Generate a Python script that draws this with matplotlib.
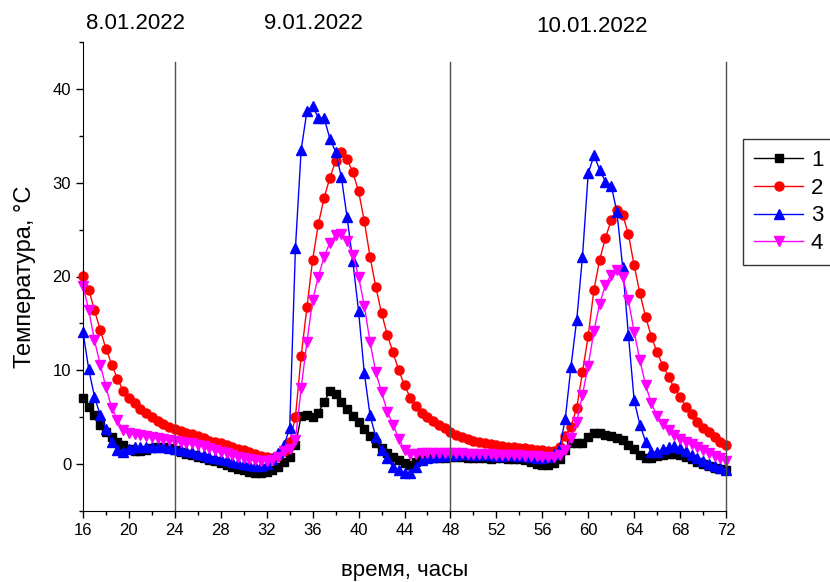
import matplotlib
matplotlib.use('Agg')
import matplotlib.pyplot as plt
import numpy as np
from matplotlib.ticker import MultipleLocator

plt.rcParams['font.family'] = ['Liberation Sans', 'DejaVu Sans']

# time axis: readings every half hour from 16 h to 72 h
hours = np.arange(16, 72.5, 0.5)

# series 1 (black squares)
temp_1 = [
    7.0, 6.1, 5.2, 4.2, 3.4, 2.9, 2.4, 2.0,
    1.6, 1.4, 1.4, 1.5, 1.7, 1.8, 1.8, 1.7,
    1.5, 1.3, 1.1, 1.0, 0.8, 0.6, 0.4, 0.3,
    0.1, -0.1, -0.3, -0.5, -0.6, -0.8, -0.9, -0.9,
    -0.8, -0.6, -0.3, 0.2, 0.8, 2.0, 5.1, 5.2,
    5.0, 5.5, 6.6, 7.8, 7.5, 6.6, 5.9, 5.1,
    4.5, 3.7, 3.0, 2.3, 1.7, 1.2, 0.8, 0.4,
    0.1, -0.1, 0.2, 0.5, 0.6, 0.7, 0.7, 0.7,
    0.8, 0.8, 0.8, 0.7, 0.7, 0.6, 0.6, 0.5,
    0.6, 0.6, 0.5, 0.5, 0.5, 0.4, 0.2, 0.0,
    -0.1, -0.1, 0.1, 0.5, 1.5, 2.2, 2.2, 2.3,
    2.9, 3.3, 3.3, 3.1, 3.0, 2.8, 2.6, 2.0,
    1.6, 1.0, 0.6, 0.7, 0.9, 1.0, 1.1, 1.1,
    1.0, 0.8, 0.5, 0.2, 0.0, -0.2, -0.4, -0.5,
    -0.6,
]

# series 2 (red circles)
temp_2 = [
    20.1, 18.6, 16.4, 14.3, 12.3, 10.6, 9.1, 7.8,
    7.0, 6.5, 5.9, 5.4, 5.0, 4.6, 4.3, 4.0,
    3.7, 3.5, 3.3, 3.2, 3.0, 2.8, 2.5, 2.4,
    2.2, 2.0, 1.8, 1.6, 1.5, 1.3, 1.1, 0.9,
    0.8, 0.7, 0.9, 1.4, 2.4, 5.0, 11.5, 16.7,
    21.8, 25.6, 28.4, 30.5, 32.3, 33.3, 32.5, 31.1,
    29.1, 25.9, 22.1, 18.9, 16.1, 13.8, 11.9, 10.0,
    8.4, 7.1, 6.2, 5.5, 5.0, 4.6, 4.2, 3.8,
    3.4, 3.1, 2.9, 2.7, 2.5, 2.4, 2.2, 2.1,
    2.0, 1.9, 1.85, 1.8, 1.7, 1.7, 1.6, 1.5,
    1.5, 1.4, 1.4, 1.8, 3.0, 4.0, 6.0, 9.8,
    13.7, 18.6, 21.8, 24.1, 26.0, 27.1, 26.6, 24.5,
    21.2, 18.2, 15.7, 13.6, 11.9, 10.5, 9.3, 8.1,
    7.2, 6.1, 5.3, 4.5, 3.9, 3.4, 2.9, 2.4,
    2.0,
]

# series 3 (blue triangles up)
temp_3 = [
    14.1, 10.1, 7.2, 5.2, 3.7, 2.4, 1.5, 1.3,
    1.6, 1.8, 1.8, 1.8, 1.8, 1.8, 1.8, 1.7,
    1.6, 1.5, 1.4, 1.3, 1.1, 1.0, 0.8, 0.7,
    0.5, 0.4, 0.2, 0.1, 0.0, -0.1, -0.2, -0.2,
    0.0, 0.5, 1.2, 2.0, 3.8, 23.0, 33.5, 37.6,
    38.2, 36.9, 36.9, 34.7, 33.3, 30.6, 26.3, 21.6,
    16.3, 9.7, 5.2, 2.9, 1.5, 0.6, -0.3, -0.6,
    -1.0, -1.0, -0.3, 0.4, 0.6, 0.8, 0.9, 0.9,
    1.0, 1.0, 1.1, 1.1, 1.0, 1.0, 1.1, 1.0,
    0.9, 0.9, 1.0, 1.0, 0.9, 0.9, 0.8, 0.7,
    0.7, 0.8, 1.1, 1.7, 4.8, 10.4, 15.4, 22.1,
    31.0, 32.9, 31.4, 30.1, 29.7, 26.9, 21.0, 13.8,
    6.8, 4.2, 2.4, 1.3, 1.3, 1.6, 1.8, 1.9,
    1.7, 1.4, 1.0, 0.6, 0.3, 0.0, -0.2, -0.4,
    -0.6,
]

# series 4 (magenta triangles down)
temp_4 = [
    19.0, 16.4, 13.2, 10.6, 8.2, 6.0, 4.7, 3.6,
    3.3, 3.2, 3.1, 3.0, 2.9, 2.8, 2.7, 2.6,
    2.5, 2.4, 2.3, 2.2, 2.0, 1.9, 1.7, 1.5,
    1.3, 1.2, 1.0, 0.8, 0.7, 0.5, 0.4, 0.3,
    0.3, 0.4, 0.8, 1.4, 1.6, 2.6, 8.1, 13.0,
    17.5, 20.0, 22.1, 23.6, 24.4, 24.5, 23.8, 22.3,
    20.0, 16.9, 13.0, 9.8, 7.7, 5.6, 4.2, 2.7,
    1.5, 1.1, 1.1, 1.2, 1.2, 1.2, 1.2, 1.2,
    1.2, 1.2, 1.2, 1.1, 1.1, 1.1, 1.1, 1.1,
    1.0, 1.0, 1.0, 1.0, 1.0, 0.9, 0.9, 0.9,
    0.8, 0.8, 0.8, 1.0, 1.5, 2.8, 4.5, 7.4,
    10.5, 14.2, 17.1, 19.1, 20.2, 20.7, 19.9, 17.5,
    14.1, 11.1, 8.4, 6.5, 5.1, 4.3, 3.6, 3.1,
    2.7, 2.4, 2.1, 1.8, 1.5, 1.2, 0.9, 0.6,
    0.3,
]

series_labels = ['1', '2', '3', '4']
day_bounds = [24, 48, 72]
day_labels = ['8.01.2022', '9.01.2022', '10.01.2022']
day_label_x = [20.6, 36.1, 60.3]
day_label_y = [47.0, 47.0, 46.6]

fig = plt.figure(figsize=(8.3, 5.82), dpi=100)
ax = fig.add_axes([83 / 830, 1 - 511 / 582, 643 / 830, 469 / 582])

styles = [
    dict(color='black', marker='s', ms=5.5),
    dict(color='red', marker='o', ms=6.5),
    dict(color='blue', marker='^', ms=7.5),
    dict(color='magenta', marker='v', ms=7.5),
]
for vals, lab, st in zip([temp_1, temp_2, temp_3, temp_4], series_labels, styles):
    ax.plot(hours, vals, color=st['color'], marker=st['marker'], ms=st['ms'],
            lw=1, mec=st['color'], mfc=st['color'], label=lab, clip_on=False)

for b in day_bounds:
    ax.axvline(b, ymin=0, ymax=0.958, color='#505050', lw=1, clip_on=False)

ax.set_xlim(16, 72)
ax.set_ylim(-5, 45)
ax.xaxis.set_major_locator(MultipleLocator(4))
ax.xaxis.set_minor_locator(MultipleLocator(2))
ax.yaxis.set_major_locator(MultipleLocator(10))
ax.yaxis.set_minor_locator(MultipleLocator(5))
ax.tick_params(which='major', length=5, width=1, labelsize=12)
ax.tick_params(which='minor', length=3, width=1)
ax.spines['top'].set_visible(False)
ax.spines['right'].set_visible(False)

ax.set_xlabel('время, часы', fontsize=16, labelpad=16)
ax.set_ylabel('Температура, °C', fontsize=17, labelpad=12)

for x, y, txt in zip(day_label_x, day_label_y, day_labels):
    ax.text(x, y, txt, ha='center', va='center', fontsize=16, clip_on=False)

leg = fig.legend(loc='upper left', bbox_to_anchor=(743 / 830, 1 - 139 / 582),
                 borderaxespad=0, fontsize=16, frameon=True, fancybox=False,
                 edgecolor='black', handlelength=2.2, handletextpad=0.35,
                 labelspacing=0.3, borderpad=0.5)
leg.get_frame().set_linewidth(1)

fig.savefig('out.png', dpi=100, facecolor='white')
